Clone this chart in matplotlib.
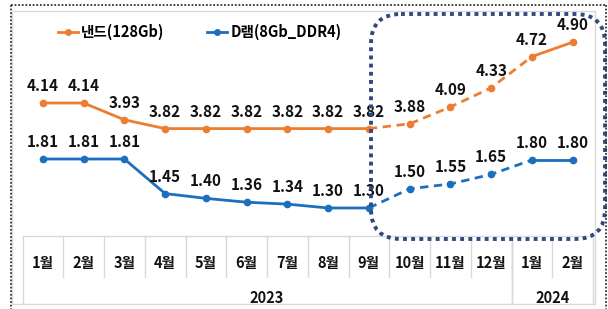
import matplotlib.pyplot as plt
from matplotlib.patches import FancyBboxPatch, Rectangle
from matplotlib.lines import Line2D

plt.rcParams['font.family'] = ['Noto Sans CJK KR', 'DejaVu Sans']

months = ["1월", "2월", "3월", "4월", "5월", "6월", "7월", "8월", "9월",
          "10월", "11월", "12월", "1월", "2월"]
years = ["2023", "2024"]
year_span = [(0, 11), (12, 13)]
nand = [4.14, 4.14, 3.93, 3.82, 3.82, 3.82, 3.82, 3.82, 3.82, 3.88, 4.09, 4.33, 4.72, 4.90]
dram = [1.81, 1.81, 1.81, 1.45, 1.40, 1.36, 1.34, 1.30, 1.30, 1.50, 1.55, 1.65, 1.80, 1.80]
nand_label = "낸드(128Gb)"
dram_label = "D램(8Gb_DDR4)"
# 9월~1월 구간은 전망치(점선)
dash_from, dash_to = 8, 12

orange = "#ED7D31"
blue = "#1C6FBE"
navy = "#2F4A80"
grid = "#D9D9D9"

W, H = 608, 309
fig = plt.figure(figsize=(W / 100, H / 100), dpi=100)

# plot area in pixels
px_l, px_r, px_t, px_b = 22.5, 593, 11, 236
ax = fig.add_axes([px_l / W, 1 - px_b / H, (px_r - px_l) / W, (px_b - px_t) / H])
ax2 = ax.twinx()
ax.set_xlim(-0.5, len(months) - 0.5)
ax.set_ylim(2.4775, 5.29)
ax2.set_ylim(1.008, 3.352)
for a in (ax, ax2):
    a.axis("off")

x = list(range(len(months)))


def draw(axis, vals, color):
    axis.plot(x[:dash_from + 1], vals[:dash_from + 1], color=color, lw=2, solid_capstyle="round")
    axis.plot(x[dash_from:dash_to + 1], vals[dash_from:dash_to + 1], color=color, lw=2,
              linestyle=(0, (3, 2)))
    axis.plot(x[dash_to:], vals[dash_to:], color=color, lw=2)
    axis.plot(x, vals, linestyle="none", marker="o", ms=4.5, color=color)
    for xi, v in zip(x, vals):
        axis.annotate(f"{v:.2f}", (xi, v), xytext=(0, 12.2), textcoords="offset points",
                      ha="center", va="center", fontsize=11, fontweight="bold", color="#111111")


draw(ax, nand, orange)
draw(ax2, dram, blue)

# legend
handles = [Line2D([], [], color=orange, lw=2, marker="o", ms=4),
           Line2D([], [], color=blue, lw=2, marker="o", ms=4)]
fig.legend(handles, [nand_label, dram_label], loc="center left",
           bbox_to_anchor=(58 / W, 1 - 32 / H), ncol=2, frameon=False,
           prop={"size": 10.5, "weight": "bold"}, handlelength=1.4, handletextpad=0.2,
           columnspacing=2.9, borderpad=0, borderaxespad=0, numpoints=1)

# category table below the plot
tr = ax.get_xaxis_transform()
h_ax = px_b - px_t
y_month = -(263 - px_b) / h_ax
y_year = -(298 - px_b) / h_ax
y_sep = -(277 - px_b) / h_ax
y_bot = -(304 - px_b) / h_ax
for xi, m in zip(x, months):
    ax.text(xi, y_month, m, transform=tr, ha="center", va="center",
            fontsize=10.5, fontweight="bold", color="#111111", clip_on=False)
for xi in range(1, len(months)):
    ax.plot([xi - 0.5, xi - 0.5], [0, y_sep], transform=tr, color=grid, lw=1, clip_on=False)
for (a, b), yr in zip(year_span, years):
    ax.text((a + b) / 2, y_year, yr, transform=tr, ha="center", va="center",
            fontsize=10.5, fontweight="bold", color="#111111", clip_on=False)
    for edge in (a - 0.5, b + 0.5):
        ax.plot([edge, edge], [0, y_bot], transform=tr, color=grid, lw=1, clip_on=False)
ax.plot([-0.5, len(months) - 0.5], [0, 0], transform=tr, color=grid, lw=1, clip_on=False)

# overlay in pixel coordinates for frames
ov = fig.add_axes([0, 0, 1, 1])
ov.set_xlim(0, W)
ov.set_ylim(H, 0)
ov.axis("off")
ov.add_patch(Rectangle((12, 11), 583, 293, fill=False, edgecolor=grid, lw=1))
dot = (0, (1, 1))
ov.plot([11, 11], [5, H], color="#333333", lw=1.3, linestyle=dot)
ov.plot([11, 606], [5, 5], color="#333333", lw=1.3, linestyle=dot)
ov.plot([606, 606], [5, H], color="#333333", lw=1.3, linestyle=dot)
ov.add_patch(FancyBboxPatch((371, 14), 234, 225, boxstyle="round,pad=0,rounding_size=30",
                            fill=False, edgecolor=navy, lw=2.8, linestyle=(0, (1, 1.1))))

fig.savefig("out.png", dpi=100)
